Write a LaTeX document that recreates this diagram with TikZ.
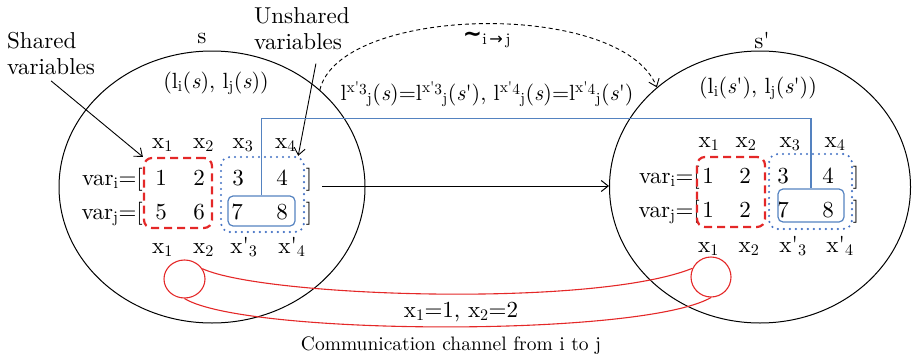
\documentclass[tikz,border=0pt]{standalone}
\usepackage{fontspec}
\setmainfont{lmroman10-regular}[Extension=.otf, BoldFont=lmroman10-bold,
  ItalicFont=lmroman10-italic]
\newfontfamily\symfam{DejaVu Sans}
\usetikzlibrary{shapes.geometric,arrows.meta,positioning}

\definecolor{chanred}{RGB}{228,40,40}
\definecolor{varblue}{RGB}{68,114,196}
\definecolor{linkblue}{RGB}{84,130,192}

\newcommand{\sx}[1]{x\textsubscript{#1}}
\newcommand{\px}[1]{x\textquotesingle\textsubscript{#1}}
\newcommand{\lx}[1]{l\textsuperscript{x\textquotesingle\raisebox{-2.5pt}{#1}}\textsubscript{j}}

\begin{document}
\begin{tikzpicture}[
    x=1pt, y=1pt,
    font=\fontsize{23}{26}\selectfont,
    >={Straight Barb[length=7pt,width=11pt]},
    % nodes
    state/.style={ellipse, draw=black, line width=1pt, inner sep=0pt},
    entry/.style={inner sep=0pt, anchor=base},
    note/.style={align=left, inner sep=0pt, anchor=north west},
    shared/.style={rectangle, rounded corners=8pt, draw=chanred, line width=2.2pt,
                   dash pattern=on 8pt off 5pt},
    unshared/.style={rectangle, rounded corners=9pt, draw=varblue, line width=2.4pt,
                     line cap=round, dash pattern=on 0pt off 6pt},
    pair/.style={rectangle, rounded corners=5pt, draw=linkblue, line width=1.2pt},
    tap/.style={ellipse, draw=chanred, line width=1.1pt, inner sep=0pt},
    % arrows
    point/.style={->, black, line width=0.9pt},
    move/.style={->, black, line width=1pt},
    sim/.style={->, black, line width=0.9pt, dash pattern=on 4pt off 3pt},
    link/.style={linkblue, line width=1.2pt},
    chan/.style={chanred, line width=1.1pt}
  ]

  \useasboundingbox (0,0) rectangle (912,-356);

  % the two states
  \node (sl) [state, minimum width=306, minimum height=272] at (212,-187) {};
  \node (sr) [state, minimum width=301, minimum height=272] at (760,-187) {};

  \node (slname) [entry] at (202,-43) {s};
  \node (srname) [entry] at (762,-48) {s\textquotesingle};
  \node (slpair) [entry, font=\fontsize{22}{25}\selectfont] at (216,-88)
        {(l\textsubscript{i}(\textit{s}), l\textsubscript{j}(\textit{s}))};
  \node (srpair) [entry, font=\fontsize{22}{25}\selectfont] at (758,-93)
        {(l\textsubscript{i}(\textit{s}\textquotesingle), l\textsubscript{j}(\textit{s}\textquotesingle))};

  \node (simrel) at (487,-40) {{\symfam\bfseries ∼}\textsubscript{i\,{\symfam →}\,j}};
  \node (equal)  [entry, font=\fontsize{22}{25}\selectfont] at (487,-100)
        {\lx{3}(\textit{s})=\lx{3}(\textit{s}\textquotesingle),
         \lx{4}(\textit{s})=\lx{4}(\textit{s}\textquotesingle)};

  \node (sharedtxt)   [note] at (7,-32)   {Shared\\variables};
  \node (unsharedtxt) [note] at (254,-7)  {Unshared\\variables};

  % left matrix
  \node (lh1) [entry] at (162.5,-148) {\sx{1}};
  \node (lh2) [entry] at (203.5,-148) {\sx{2}};
  \node (lh3) [entry] at (243,-148)   {\sx{3}};
  \node (lh4) [entry] at (285.5,-148) {\sx{4}};

  \node (li0) [entry, anchor=base east] at (143,-185) {var\textsubscript{i}=[};
  \node (li1) [entry] at (161,-185) {1};
  \node (li2) [entry] at (199,-185) {2};
  \node (li3) [entry] at (238,-185) {3};
  \node (li4) [entry] at (282,-185) {4};
  \node (lic) [entry] at (309,-185) {]};

  \node (lj0) [entry, anchor=base east] at (143,-219) {var\textsubscript{j}=[};
  \node (lj1) [entry] at (161,-219) {5};
  \node (lj2) [entry] at (199,-219) {6};
  \node (lj3) [entry] at (237,-219) {7};
  \node (lj4) [entry] at (282,-219) {8};
  \node (ljc) [entry] at (309,-219) {]};

  \node (lb1) [entry] at (162.5,-253) {\sx{1}};
  \node (lb2) [entry] at (203.5,-253) {\sx{2}};
  \node (lb3) [entry] at (244,-253)   {\px{3}};
  \node (lb4) [entry] at (292,-253)   {\px{4}};

  \node (lshared) [shared, minimum width=68, minimum height=70] at (178,-193) {};
  \node (lunsh)   [unshared, minimum width=83, minimum height=75] at (262.5,-194.5) {};
  \node (lpair)   [pair, minimum width=67, minimum height=30] at (261.5,-211) {};

  % right matrix
  \node (rh1) [entry] at (709,-147) {\sx{1}};
  \node (rh2) [entry] at (746,-147) {\sx{2}};
  \node (rh3) [entry] at (790,-147) {\sx{3}};
  \node (rh4) [entry] at (835,-147) {\sx{4}};

  \node (ri0) [entry, anchor=base east] at (700,-183) {var\textsubscript{i}=[};
  \node (ri1) [entry] at (708,-183) {1};
  \node (ri2) [entry] at (745,-183) {2};
  \node (ri3) [entry] at (783,-183) {3};
  \node (ri4) [entry] at (828,-183) {4};
  \node (ric) [entry] at (856,-183) {]};

  \node (rj0) [entry, anchor=base east] at (700,-217) {var\textsubscript{j}=[};
  \node (rj1) [entry] at (708,-217) {1};
  \node (rj2) [entry] at (745,-217) {2};
  \node (rj3) [entry] at (783,-217) {7};
  \node (rj4) [entry] at (828,-217) {8};
  \node (rjc) [entry] at (856,-217) {]};

  \node (rb1) [entry] at (708.5,-252) {\sx{1}};
  \node (rb2) [entry] at (749,-252)   {\sx{2}};
  \node (rb3) [entry] at (793,-252)   {\px{3}};
  \node (rb4) [entry] at (840,-252)   {\px{4}};

  \node (rshared) [shared, minimum width=68, minimum height=70] at (731,-192) {};
  \node (runsh)   [unshared, minimum width=83, minimum height=75] at (810.5,-191.5) {};
  \node (rpair)   [pair, minimum width=66, minimum height=33] at (811,-205.5) {};

  % channel
  \node (lc) [tap, minimum width=41, minimum height=38] at (184.5,-279) {};
  \node (rc) [tap, minimum width=40, minimum height=40] at (711,-277) {};

  \node (msg)  [entry] at (461,-317) {\sx{1}=1, \sx{2}=2};
  \node (comm) [entry, font=\fontsize{19.5}{22}\selectfont] at (451,-350)
        {Communication channel from i to j};

  \coordinate (mv) at (322,-186);

  % connectors
  \draw[point] ([yshift=-6pt]sharedtxt.south) -- (lshared.north west);
  \draw[point] ([xshift=14pt,yshift=-14pt]unsharedtxt.south) -- ([xshift=-7pt]lunsh.north east);

  \draw[sim]  (sl.42) .. controls +(20,85) and +(-35,88) .. (sr.136);
  \draw[move] (mv) -- (mv -| sr.west);

  \draw[link] (lpair.north) -- ++(0,77) -| (rpair.north);

  \draw[chan] (lc.30) .. controls +(60,-28) and +(-100,-40) .. (rc.155);
  \draw[chan] (lc.south) .. controls +(60,-37) and +(-70,-40) .. (rc.south);
\end{tikzpicture}
\end{document}
